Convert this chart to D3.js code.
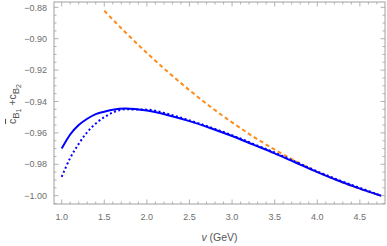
<!DOCTYPE html>
<html lang="en">
<head>
  <meta charset="UTF-8">
  <title>cB1 + cB2 vs v</title>
  <script src="https://d3js.org/d3.v7.min.js"></script>
  <style>
    body { margin: 0; background: white; font-family: 'Liberation Sans', Arial, sans-serif; }
    .tick-label { font-size: 9px; fill: #6e6e6e; }
    .axis-title { font-size: 10.5px; fill: #555; }
  </style>
</head>
<body>
  <svg width="387" height="246"></svg>

  <script>
    // curve samples
    const vSolid = [1.0, 1.1, 1.2, 1.3, 1.4, 1.5, 1.6, 1.75, 2.0, 2.25, 2.5, 2.75, 3.0, 3.25, 3.5, 3.75, 4.0, 4.25, 4.5, 4.75];
    const cSolid = [-0.970, -0.961, -0.955, -0.951, -0.948, -0.9465, -0.9452, -0.9445, -0.9458, -0.9487, -0.9525, -0.957, -0.962, -0.9675, -0.973, -0.979, -0.985, -0.9905, -0.9955, -1.000];
    const cDotted = [-0.988, -0.976, -0.967, -0.9595, -0.954, -0.950, -0.947, -0.945, -0.9452, -0.948, -0.952, -0.9565, -0.9615, -0.967, -0.9725, -0.9785, -0.9845, -0.990, -0.995, -1.000];
    const vDashed = [1.5, 1.75, 2.0, 2.25, 2.5, 2.75, 3.0, 3.25, 3.5, 3.75, 4.0, 4.25, 4.5, 4.75];
    const cDashed = [-0.8822, -0.8960, -0.9091, -0.9213, -0.9328, -0.9435, -0.9533, -0.9624, -0.9706, -0.9781, -0.9848, -0.9906, -0.9957, -1.000];

    const xTicks = [1.0, 1.5, 2.0, 2.5, 3.0, 3.5, 4.0, 4.5];
    const yTicks = [-0.88, -0.90, -0.92, -0.94, -0.96, -0.98, -1.00];

    const svg = d3.select("svg");
    const mLeft = 54, mRight = 385, mTop = 2, mBottom = 204;

    const x = d3.scaleLinear().domain([0.91, 4.795]).range([mLeft, mRight]);
    const y = d3.scaleLinear().domain([-1.0053, -0.8766]).range([mBottom, mTop]);

    const frameColor = "#a0a0a0";

    // minor ticks
    const xMinor = d3.range(10, 48).map(d => d / 10).filter(d => x(d) > mLeft && x(d) < mRight);
    const yMinor = d3.range(-1005, -875, 5).map(d => d / 1000).filter(d => y(d) > mTop && y(d) < mBottom);

    const ticks = svg.append("g").attr("stroke", frameColor).attr("stroke-width", 0.8);
    xMinor.forEach(d => {
      const major = xTicks.some(t => Math.abs(t - d) < 1e-6);
      const len = major ? 4.5 : 2.5;
      ticks.append("line").attr("x1", x(d)).attr("x2", x(d)).attr("y1", mBottom).attr("y2", mBottom - len);
      ticks.append("line").attr("x1", x(d)).attr("x2", x(d)).attr("y1", mTop).attr("y2", mTop + len);
    });
    yMinor.forEach(d => {
      const major = yTicks.some(t => Math.abs(t - d) < 1e-6);
      const len = major ? 4.5 : 2.5;
      ticks.append("line").attr("y1", y(d)).attr("y2", y(d)).attr("x1", mLeft).attr("x2", mLeft + len);
      ticks.append("line").attr("y1", y(d)).attr("y2", y(d)).attr("x1", mRight).attr("x2", mRight - len);
    });

    // frame
    svg.append("rect")
      .attr("x", mLeft).attr("y", mTop)
      .attr("width", mRight - mLeft).attr("height", mBottom - mTop)
      .attr("fill", "none").attr("stroke", frameColor).attr("stroke-width", 1);

    // tick labels
    svg.append("g").selectAll("text").data(xTicks).join("text")
      .attr("class", "tick-label")
      .attr("x", d => x(d)).attr("y", 220)
      .attr("text-anchor", "middle")
      .text(d => d.toFixed(1));

    svg.append("g").selectAll("text").data(yTicks).join("text")
      .attr("class", "tick-label")
      .attr("x", 47).attr("y", d => y(d) + 3.2)
      .attr("text-anchor", "end")
      .text(d => "\u2212" + Math.abs(d).toFixed(2));

    // curves
    const line = d3.line().x(d => x(d[0])).y(d => y(d[1])).curve(d3.curveMonotoneX);

    const plot = svg.append("g");
    plot.append("path")
      .datum(vDashed.map((v, i) => [v, cDashed[i]]))
      .attr("d", line)
      .attr("fill", "none").attr("stroke", "#ff8c1a").attr("stroke-width", 2)
      .attr("stroke-dasharray", "4,3");

    plot.append("path")
      .datum(vSolid.map((v, i) => [v, cSolid[i]]))
      .attr("d", line)
      .attr("fill", "none").attr("stroke", "#0000ff").attr("stroke-width", 2);

    plot.append("path")
      .datum(vSolid.map((v, i) => [v, cDotted[i]]))
      .attr("d", line)
      .attr("fill", "none").attr("stroke", "#0000ff").attr("stroke-width", 2)
      .attr("stroke-dasharray", "2,2.5");

    // axis titles
    const xt = svg.append("text").attr("class", "axis-title")
      .attr("x", (mLeft + mRight) / 2).attr("y", 241).attr("text-anchor", "middle");
    xt.append("tspan").attr("font-style", "italic").text("v");
    xt.append("tspan").text(" (GeV)");

    const yt = svg.append("text").attr("class", "axis-title")
      .attr("font-size", "12px")
      .attr("transform", "translate(16,104) rotate(-90)")
      .attr("text-anchor", "middle");
    yt.append("tspan").attr("text-decoration", "overline").text("c");
    yt.append("tspan").attr("font-size", "9.5px").attr("dy", 3).text("B");
    yt.append("tspan").attr("font-size", "7px").attr("dy", 2).text("1");
    yt.append("tspan").attr("dy", -5).text(" +");
    yt.append("tspan").text("c");
    yt.append("tspan").attr("font-size", "9.5px").attr("dy", 3).text("B");
    yt.append("tspan").attr("font-size", "7px").attr("dy", 2).text("2");
  </script>
</body>
</html>
